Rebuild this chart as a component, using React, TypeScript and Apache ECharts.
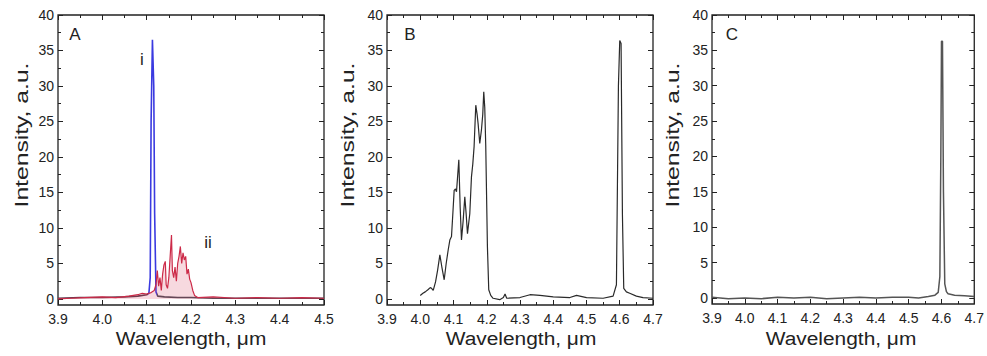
import React, { useEffect, useRef } from "react";
import * as echarts from "echarts";

// ---------- data ----------
// Panel A, curve i (blue)
const A_I_WAVE = [3.9, 3.95, 4.0, 4.05, 4.08, 4.1, 4.105, 4.108, 4.11, 4.113, 4.116, 4.118, 4.121, 4.125, 4.14, 4.17, 4.2, 4.25, 4.3, 4.4, 4.5];
const A_I_INT = [0.1, 0.2, 0.2, 0.3, 0.4, 0.6, 0.8, 3, 25, 36.5, 30, 12, 1.0, 0.4, 0.3, 0.2, 0.2, 0.1, 0.1, 0.1, 0.1];

// Panel A, curve ii (red)
const A_II_WAVE = [3.9, 3.93, 3.96, 4.0, 4.03, 4.06, 4.08, 4.09, 4.1, 4.11, 4.117, 4.121, 4.124, 4.127, 4.13, 4.133, 4.136, 4.139, 4.142, 4.144, 4.147, 4.15, 4.153, 4.156, 4.158, 4.161, 4.164, 4.167, 4.17, 4.173, 4.176, 4.179, 4.182, 4.185, 4.188, 4.191, 4.194, 4.197, 4.2, 4.204, 4.208, 4.215, 4.25, 4.3, 4.35, 4.4, 4.45, 4.5];
const A_II_INT = [0.0, 0.1, 0.2, 0.3, 0.2, 0.4, 0.6, 0.8, 0.7, 0.9, 1.2, 2.0, 4.0, 1.8, 3.0, 1.2, 3.5, 4.8, 5.3, 2.0, 1.5, 3.0, 6.0, 9.0, 4.0, 3.0, 4.5, 2.5, 5.0, 6.0, 7.4, 5.0, 6.5, 5.5, 6.0, 3.5, 4.2, 2.8, 2.3, 1.2, 0.5, 0.2, 0.3, 0.1, 0.2, 0.1, 0.2, 0.1];

// Panel B
const B_WAVE = [4.0, 4.008, 4.015, 4.023, 4.03, 4.034, 4.039, 4.046, 4.052, 4.059, 4.065, 4.072, 4.078, 4.084, 4.089, 4.094, 4.098, 4.102, 4.106, 4.109, 4.116, 4.12, 4.124, 4.129, 4.134, 4.138, 4.142, 4.149, 4.154, 4.158, 4.162, 4.167, 4.171, 4.174, 4.179, 4.184, 4.188, 4.191, 4.194, 4.197, 4.202, 4.206, 4.212, 4.219, 4.239, 4.25, 4.255, 4.26, 4.3, 4.33, 4.36, 4.4, 4.45, 4.47, 4.5, 4.55, 4.58, 4.59, 4.596, 4.6, 4.604, 4.608, 4.612, 4.62, 4.63, 4.65, 4.67, 4.7];
const B_INT = [0.5, 0.8, 1.0, 1.3, 1.6, 1.5, 1.2, 2.4, 4.0, 6.2, 4.5, 2.7, 5.0, 6.9, 8.3, 8.8, 12, 15.3, 15.5, 15.1, 19.6, 13, 8.3, 11, 14.4, 12, 9.2, 12, 17.2, 19, 21.5, 27.3, 26, 24.7, 21.9, 23.8, 26, 29.2, 27, 21.5, 7.4, 1.3, 0.5, 0.1, -0.1, 0.2, 0.7, 0.1, 0.2, 0.6, 0.5, 0.3, 0.2, 0.5, 0.2, 0.1, 0.4, 2.0, 30, 36.4, 36.0, 12, 1.5, 1.0, 0.8, 0.4, 0.2, 0.1];

// Panel C
const C_WAVE = [3.9, 3.95, 4.0, 4.05, 4.1, 4.15, 4.2, 4.25, 4.3, 4.35, 4.4, 4.45, 4.5, 4.53, 4.56, 4.58, 4.59, 4.595, 4.598, 4.6, 4.603, 4.606, 4.61, 4.615, 4.62, 4.64, 4.67, 4.7];
const C_INT = [0.1, -0.1, 0.0, -0.1, 0.1, 0.0, 0.1, -0.1, 0.0, 0.1, 0.0, 0.1, 0.1, 0.0, 0.2, 0.4, 0.8, 3, 20, 36.3, 36.3, 15, 2, 0.9, 0.6, 0.4, 0.3, 0.2];

// Tick labels
const Y_MAJOR = [0, 5, 10, 15, 20, 25, 30, 35, 40];
const Y_MINOR = [2.5, 7.5, 12.5, 17.5, 22.5, 27.5, 32.5, 37.5];
const PANEL_LETTERS = ["A", "B", "C"];
const X_TITLE = "Wavelength, \u03bcm";
const Y_TITLE = "Intensity, a.u.";

// ---------- layout ----------
const FONT = "'Liberation Sans', Arial, Helvetica, sans-serif";
const INK = "#222";
const GRIDS = [
  { left: 58, top: 15, width: 266, height: 290, xMax: 4.5, yTitleX: 22, xTitleX: 191, letterX: 75 },
  { left: 387, top: 15, width: 266, height: 290, xMax: 4.7, yTitleX: 348, xTitleX: 521, letterX: 410 },
  { left: 712, top: 15, width: 263, height: 289, xMax: 4.7, yTitleX: 673, xTitleX: 841, letterX: 732 },
];

const zip = (xs: number[], ys: number[]) => xs.map((x, i) => [x, ys[i]]);

function buildOption() {
  const grid: any[] = [];
  const xAxis: any[] = [];
  const yAxis: any[] = [];
  const graphic: any[] = [];

  GRIDS.forEach((g, gi) => {
    grid.push({
      left: g.left,
      top: g.top,
      width: g.width,
      height: g.height,
      show: true,
      borderColor: INK,
      borderWidth: 1.3,
      backgroundColor: "transparent",
    });
    for (const pos of ["bottom", "top"]) {
      xAxis.push({
        type: "value",
        gridIndex: gi,
        position: pos,
        min: 3.9,
        max: g.xMax,
        interval: 0.1,
        axisLine: { show: false, onZero: false },
        axisTick: { show: true, inside: true, length: 5, lineStyle: { color: INK, width: 1 } },
        minorTick: { show: true, splitNumber: 2, length: 3, lineStyle: { color: INK, width: 1 } },
        axisLabel: {
          show: pos === "bottom",
          margin: 7,
          fontSize: 14,
          fontFamily: FONT,
          color: INK,
          formatter: (v: number) => v.toFixed(1),
        },
        splitLine: { show: false },
        minorSplitLine: { show: false },
      });
    }
    for (const pos of ["left", "right"]) {
      for (const major of [true, false]) {
        const vals = major ? Y_MAJOR : Y_MINOR;
        yAxis.push({
          type: "value",
          gridIndex: gi,
          position: pos,
          min: -0.85,
          max: 40,
          axisLine: { show: false, onZero: false },
          axisTick: {
            show: true,
            inside: true,
            length: major ? 5 : 3,
            customValues: vals,
            lineStyle: { color: INK, width: 1 },
          },
          axisLabel: {
            show: major && pos === "left",
            customValues: vals,
            margin: 4,
            fontSize: 14,
            fontFamily: FONT,
            color: INK,
          },
          splitLine: { show: false },
        });
      }
    }

    graphic.push({
      type: "text",
      x: g.xTitleX,
      y: 338,
      scaleX: 1.1,
      style: { text: X_TITLE, fill: INK, fontSize: 19, fontFamily: FONT, align: "center", verticalAlign: "middle" },
    });
    graphic.push({
      type: "text",
      x: g.yTitleX,
      y: 135,
      rotation: Math.PI / 2,
      scaleX: 1.3,
      style: { text: Y_TITLE, fill: INK, fontSize: 19, fontFamily: FONT, align: "center", verticalAlign: "middle" },
    });
    graphic.push({
      type: "text",
      x: g.letterX,
      y: 34,
      style: { text: PANEL_LETTERS[gi], fill: INK, fontSize: 17, fontFamily: FONT, align: "center", verticalAlign: "middle" },
    });
  });

  graphic.push({
    type: "text",
    x: 142,
    y: 59,
    style: { text: "i", fill: INK, fontSize: 17, fontFamily: FONT, align: "center", verticalAlign: "middle" },
  });
  graphic.push({
    type: "text",
    x: 208,
    y: 242,
    style: { text: "ii", fill: INK, fontSize: 17, fontFamily: FONT, align: "center", verticalAlign: "middle" },
  });

  const line = (data: number[][], gi: number, color: string | undefined, width: number, z: number, extra: any = {}) => ({
    type: "line",
    xAxisIndex: gi * 2,
    yAxisIndex: gi * 4,
    data,
    showSymbol: false,
    symbol: "none",
    lineStyle: color ? { color, width } : { width },
    z,
    silent: true,
    ...extra,
  });

  return {
    animation: false,
    backgroundColor: "#ffffff",
    grid,
    xAxis,
    yAxis,
    graphic,
    visualMap: [
      {
        type: "piecewise",
        show: false,
        seriesIndex: 0,
        dimension: 0,
        pieces: [
          { lt: 4.104, color: "#5a3a4a" },
          { gte: 4.104, lte: 4.123, color: "#3a3ae0" },
          { gt: 4.123, color: "#4a4a55" },
        ],
      },
    ],
    series: [
      line(zip(A_I_WAVE, A_I_INT), 0, undefined, 1.6, 2),
      line(zip(A_II_WAVE, A_II_INT), 0, "#cc2a48", 1.2, 3, {
        areaStyle: { color: "rgba(215, 60, 90, 0.28)" },
      }),
      line(zip(B_WAVE, B_INT), 1, "#2a2a2a", 1.2, 2),
      line(zip(C_WAVE, C_INT), 2, "#555555", 1.5, 2),
    ],
  };
}

export default function App() {
  const ref = useRef<HTMLDivElement>(null);
  useEffect(() => {
    if (!ref.current) return;
    const chart = echarts.init(ref.current, undefined, { renderer: "svg" });
    chart.setOption(buildOption() as any);
    return () => chart.dispose();
  }, []);
  return (
    <div
      ref={ref}
      style={{ position: "fixed", left: 0, top: 0, width: 987, height: 356, background: "#fff" }}
    />
  );
}
